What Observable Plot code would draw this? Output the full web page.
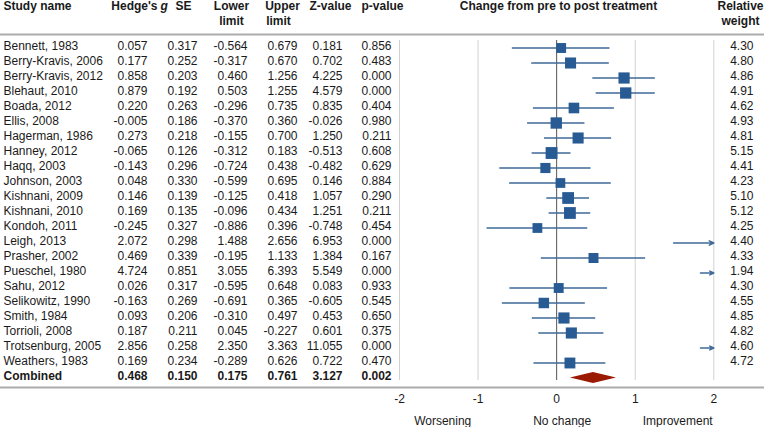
<!DOCTYPE html>
<html><head><meta charset="utf-8">
<script src="https://cdn.jsdelivr.net/npm/d3@7"></script>
<script src="https://cdn.jsdelivr.net/npm/@observablehq/plot@0.6"></script>
<style>body{margin:0;background:#fff}svg{display:block}</style>
</head><body><div id="chart"></div>
<script>
const studies = ["Bennett, 1983","Berry-Kravis, 2006","Berry-Kravis, 2012","Blehaut, 2010","Boada, 2012","Ellis, 2008","Hagerman, 1986","Hanney, 2012","Haqq, 2003","Johnson, 2003","Kishnani, 2009","Kishnani, 2010","Kondoh, 2011","Leigh, 2013","Prasher, 2002","Pueschel, 1980","Sahu, 2012","Selikowitz, 1990","Smith, 1984","Torrioli, 2008","Trotsenburg, 2005","Weathers, 1983"];
const hedgesG = [0.057,0.177,0.858,0.879,0.220,-0.005,0.273,-0.065,-0.143,0.048,0.146,0.169,-0.245,2.072,0.469,4.724,0.026,-0.163,0.093,0.187,2.856,0.169];
const stdErr = [0.317,0.252,0.203,0.192,0.263,0.186,0.218,0.126,0.296,0.330,0.139,0.135,0.327,0.298,0.339,0.851,0.317,0.269,0.206,0.211,0.258,0.234];
const lowerLimit = [-0.564,-0.317,0.460,0.503,-0.296,-0.370,-0.155,-0.312,-0.724,-0.599,-0.125,-0.096,-0.886,1.488,-0.195,3.055,-0.595,-0.691,-0.310,0.045,2.350,-0.289];
const upperLimit = [0.679,0.670,1.256,1.255,0.735,0.360,0.700,0.183,0.438,0.695,0.418,0.434,0.396,2.656,1.133,6.393,0.648,0.365,0.497,-0.227,3.363,0.626];
const zValue = [0.181,0.702,4.225,4.579,0.835,-0.026,1.250,-0.513,-0.482,0.146,1.057,1.251,-0.748,6.953,1.384,5.549,0.083,-0.605,0.453,0.601,11.055,0.722];
const pValue = [0.856,0.483,0.000,0.000,0.404,0.980,0.211,0.608,0.629,0.884,0.290,0.211,0.454,0.000,0.167,0.000,0.933,0.545,0.650,0.375,0.000,0.470];
const relWeight = [4.30,4.80,4.86,4.91,4.62,4.93,4.81,5.15,4.41,4.23,5.10,5.12,4.25,4.40,4.33,1.94,4.30,4.55,4.85,4.82,4.60,4.72];
// interval as drawn in the plot (Torrioli drawn from -0.227 to 0.601)
const ciLow  = [-0.564,-0.317,0.460,0.503,-0.296,-0.370,-0.155,-0.312,-0.724,-0.599,-0.125,-0.096,-0.886,1.488,-0.195,3.055,-0.595,-0.691,-0.310,-0.227,2.350,-0.289];
const ciHigh = [0.679,0.670,1.256,1.255,0.735,0.360,0.700,0.183,0.438,0.695,0.418,0.434,0.396,2.656,1.133,6.393,0.648,0.365,0.497,0.601,3.363,0.626];
const combined = {study:"Combined", g:0.468, se:0.150, lo:0.175, hi:0.761, z:3.127, p:0.002};
const xTicks = [-2,-1,0,1,2];
const directionLabels = ["Worsening","No change","Improvement"];

const rows = studies.map((s,i)=>({i, study:s, g:hedgesG[i], se:stdErr[i], lo:lowerLimit[i], hi:upperLimit[i], z:zValue[i], p:pValue[i], w:relWeight[i], cl:ciLow[i], ch:ciHigh[i]}));
const ci = studies.length;
const crow = [{i:ci, ...combined}];
const all = [...rows, ...crow.map(d=>({...d}))];

const INK = "#1a1a1a", LINE = "#3f6a99", SQ = "#285b93", RED = "#9b1a04";
const FS = 12;
const f3 = v => v.toFixed(3);

const col = (data, key, right, extra={}) => Plot.text(data, {y:"i", text: d => typeof key === "function" ? key(d) : f3(d[key]), frameAnchor:"left", dx:right, dy:1.5, textAnchor:"end", lineAnchor:"bottom", fontSize:FS, fill:INK, ...extra});
const head = (label, x, y, anchor="middle", extra={}) => Plot.text([label], {frameAnchor:"top-left", dx:x, dy:y, textAnchor:anchor, lineAnchor:"bottom", fontSize:FS, fontWeight:"bold", fill:INK, ...extra});

const numCols = [["g",147],["se",197],["lo",247],["hi",297],["z",342],["p",391]];

const marks = [
  // gridlines
  Plot.ruleX([-2,-1,1,2], {y1:-0.5, y2:22.17, stroke:"#d2d2d2", strokeWidth:1}),
  Plot.ruleX([0], {y1:-0.5, y2:22.17, stroke:"#555", strokeWidth:1}),
  // horizontal rules
  Plot.ruleY([-0.9, 22.63], {stroke:"#ababab", strokeWidth:2}),
  // headers
  head("Study name", 3, 9.5, "start"),
  head("Hedge's", 157, 9.5, "end"),
  head("g", 160, 9.5, "start", {fontStyle:"italic"}),
  head("SE", 183, 9.5),
  head("Lower", 231, 9.5), head("limit", 231, 24.5),
  head("Upper", 282, 9.5), head("limit", 278, 24.5),
  head("Z-value", 330, 9.5),
  head("p-value", 382, 9.5),
  head("Change from pre to post treatment", 558, 9.5),
  head("Relative", 740, 9.5), head("weight", 740, 24.5),
  // study names
  Plot.text(rows, {y:"i", text:"study", frameAnchor:"left", dx:3, dy:1.5, textAnchor:"start", lineAnchor:"bottom", fontSize:FS, fill:INK}),
  Plot.text(crow, {y:"i", text:"study", frameAnchor:"left", dx:3, dy:1.5, textAnchor:"start", lineAnchor:"bottom", fontSize:FS, fontWeight:"bold", fill:INK}),
  ...numCols.map(([k,x]) => col(rows, k, x)),
  ...numCols.map(([k,x]) => col(crow, k, x, {fontWeight:"bold"})),
  col(rows, d => d.w.toFixed(2), 753),
  // confidence intervals within range
  Plot.ruleY(rows.filter(d => d.ch <= 2), {y:"i", x1:"cl", x2:"ch", stroke:LINE, strokeWidth:1.5}),
  // intervals leaving the plot on the right
  Plot.arrow(rows.filter(d => d.ch > 2), {x1: d => Math.min(d.cl, 1.83), x2: () => 2, y1:"i", y2:"i", stroke:LINE, strokeWidth:1.5, headLength:5, headAngle:50}),
  // squares
  Plot.dot(rows.filter(d => d.g <= 2), {x:"g", y:"i", r:"w", symbol:"square", fill:SQ, stroke:"none"}),
  // combined diamond
  Plot.areaY([{x:combined.lo, a:ci, b:ci}, {x:combined.g, a:ci-0.37, b:ci+0.37}, {x:combined.hi, a:ci, b:ci}], {x:"x", y1:"a", y2:"b", fill:RED}),
  // x tick labels
  Plot.text(xTicks, {x:d=>d, text:d=>String(d), frameAnchor:"top", dy:402, lineAnchor:"bottom", fontSize:FS, fill:INK}),
  Plot.text(directionLabels, {x:(d,i)=>[-1.45,0.07,1.54][i], text:d=>d, frameAnchor:"top", dy:424.5, lineAnchor:"bottom", fontSize:FS, fill:INK})
];

const chart = Plot.plot({
  width:764, height:427,
  marginTop:0, marginBottom:0, marginLeft:0, marginRight:0,
  style:{fontFamily:"'Liberation Sans', Arial, sans-serif", background:"#fff", color:INK},
  x:{type:"linear", domain:[-2,2], range:[399,713.3], axis:null},
  y:{type:"linear", domain:[0,22], range:[47.5,377.5], axis:null},
  r:{type:"linear", domain:[0,5], range:[0,6.5]},
  marks
});
document.getElementById("chart").appendChild(chart);
</script>
</body></html>
